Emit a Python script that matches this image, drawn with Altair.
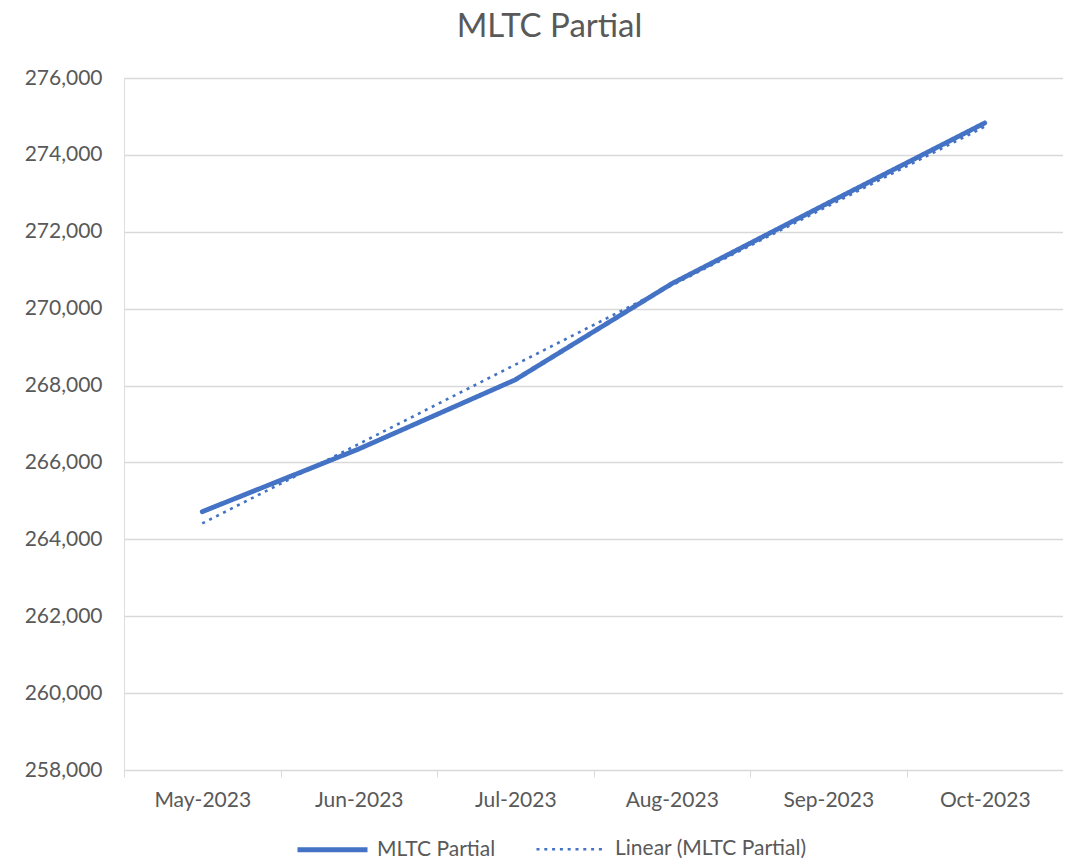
import altair as alt
import numpy as np
import pandas as pd

months = ["May-2023", "Jun-2023", "Jul-2023", "Aug-2023", "Sep-2023", "Oct-2023"]
values = [264720, 266350, 268150, 270650, 272750, 274830]
series_main = "MLTC Partial"
series_trend = "Linear (MLTC Partial)"
y_ticks = [258000, 260000, 262000, 264000, 266000, 268000, 270000, 272000, 274000, 276000]

# linear trendline (least squares) over the data
idx = np.arange(len(values))
slope, intercept = np.polyfit(idx, values, 1)
trend = list(intercept + slope * idx)

df = pd.concat([
    pd.DataFrame({"month": months, "value": values, "series": series_main}),
    pd.DataFrame({"month": months, "value": trend, "series": series_trend}),
])

BLUE = "#4472C4"
GREY = "#595959"
FONT = "Lato"
domain = [series_main, series_trend]

x_enc = alt.X("month:N", sort=months, title=None,
              scale=alt.Scale(type="band", paddingInner=0, paddingOuter=0),
              axis=alt.Axis(labelAngle=0, tickBand="extent", domainColor="#D9D9D9",
                            tickColor="#D9D9D9", tickSize=7, labelPadding=12,
                            labelFontSize=21, labelColor=GREY, labelFont=FONT,
                            grid=False))
y_enc = alt.Y("value:Q", title=None,
              scale=alt.Scale(domain=[258000, 276000], nice=False, zero=False),
              axis=alt.Axis(values=y_ticks, format=",.0f", domain=False, ticks=False,
                            labelPadding=22, labelFontSize=21, labelColor=GREY,
                            labelFont=FONT, gridColor="#D9D9D9", gridWidth=1.3))
legend = alt.Legend(title=None, orient="none", legendX=171, legendY=734,
                    direction="horizontal", symbolType="stroke", symbolSize=4900,
                    labelFontSize=21, labelColor=GREY, labelFont=FONT, labelLimit=400,
                    labelOffset=7, columnPadding=35)
common = dict(
    color=alt.Color("series:N", scale=alt.Scale(domain=domain, range=[BLUE, BLUE]),
                    legend=legend),
    strokeDash=alt.StrokeDash("series:N", scale=alt.Scale(domain=domain, range=[[1, 0], [3, 4.8]]),
                              legend=legend),
    strokeWidth=alt.StrokeWidth("series:N", scale=alt.Scale(domain=domain, range=[4.8, 2.6]),
                                legend=legend),
)

main = alt.Chart(df).transform_filter(alt.datum.series == series_main).mark_line(
    strokeCap="round", strokeJoin="round").encode(x=x_enc, y=y_enc, **common)
tr = alt.Chart(df).transform_filter(alt.datum.series == series_trend).mark_line(
    strokeCap="butt").encode(x=x_enc, y=y_enc, **common)

chart = alt.layer(tr, main).properties(
    width=939, height=692,
    title=alt.TitleParams("MLTC Partial", fontSize=33, font=FONT, fontWeight="normal",
                          color=GREY, anchor="middle", dx=-44, offset=23),
    autosize=alt.AutoSizeParams(type="none"),
    padding={"left": 116, "top": 70, "right": 0, "bottom": 89},
).configure_view(strokeWidth=0, stroke="transparent").configure(background="white")

chart.save("out.html", embed_options={"renderer": "svg", "actions": False})
